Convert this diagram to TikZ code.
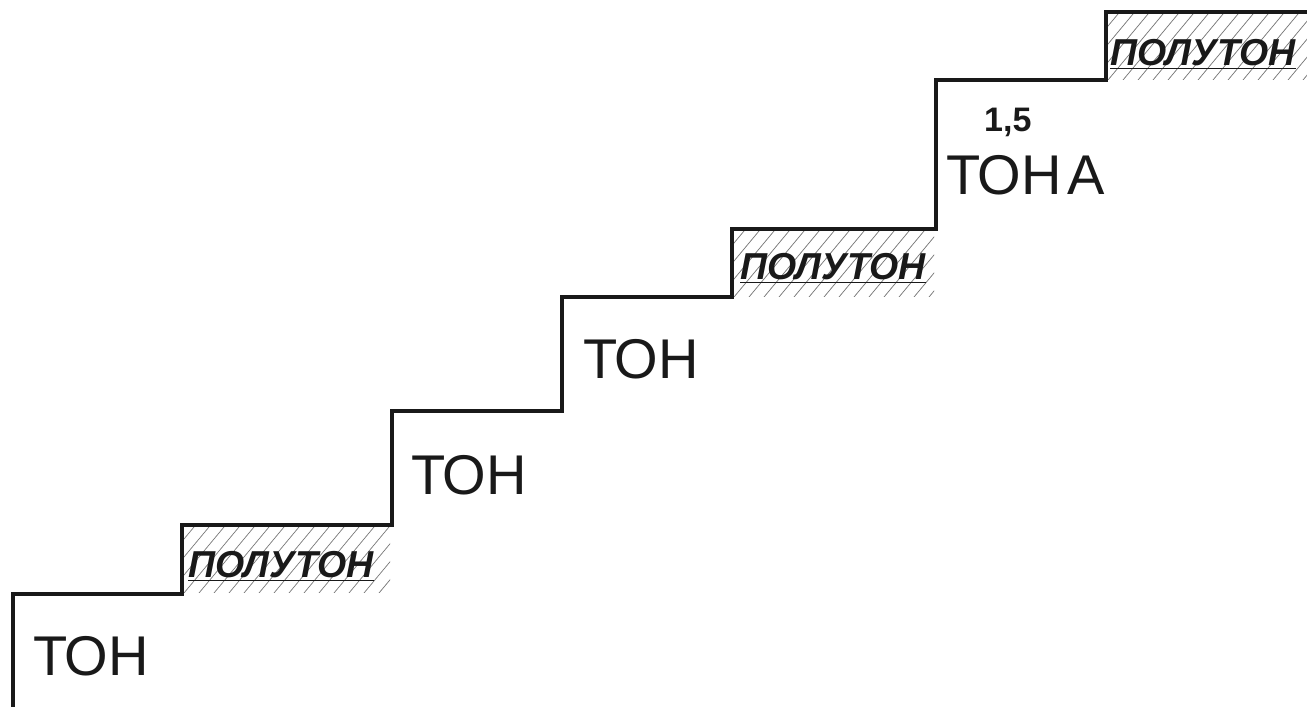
\documentclass[tikz,border=0pt]{standalone}
\usepackage{fontspec}
\setmainfont{Liberation Sans}
\begin{document}
\begin{tikzpicture}[x=1pt,y=1pt,
  stair/.style={line width=4pt,line join=miter,black!90},
  hatchline/.style={line width=0.7pt,black!55},
  tonlbl/.style={inner sep=0pt,anchor=base west,font=\fontsize{56}{60}\selectfont,text=black!90},
  halflbl/.style={inner sep=0pt,anchor=base west,font=\fontsize{37.5}{40}\selectfont\bfseries\itshape,text=black!90},
  numlbl/.style={inner sep=0pt,anchor=base west,font=\fontsize{34}{38}\selectfont\bfseries,text=black!90}]
\useasboundingbox (0,0) rectangle (1307,707);
% hatched regions (x1, x2, ytop, ybottom in image px)
\foreach \xa/\xb/\yt/\yb in {184/390/525/593, 734/934/229/297, 1108/1307/12/80}{
  \begin{scope}
    \clip (\xa,707-\yt) rectangle (\xb,707-\yb);
    \foreach \k in {-105,-90,...,300}{
      \draw[hatchline] (\xa+\k,707-\yb) -- ++(100,120);
    }
  \end{scope}
}
% staircase
\coordinate (p0) at (13,0);
\coordinate (p1) at (13,707-594);
\coordinate (p2) at (182,707-594);
\coordinate (p3) at (182,707-525);
\coordinate (p4) at (392,707-525);
\coordinate (p5) at (392,707-411);
\coordinate (p6) at (562,707-411);
\coordinate (p7) at (562,707-297);
\coordinate (p8) at (732,707-297);
\coordinate (p9) at (732,707-229);
\coordinate (p10) at (936,707-229);
\coordinate (p11) at (936,707-80);
\coordinate (p12) at (1106,707-80);
\coordinate (p13) at (1106,707-12);
\coordinate (p14) at (1309,707-12);
\draw[stair] (p0) -- (p1) -- (p2) -- (p3) -- (p4) -- (p5) -- (p6) -- (p7) -- (p8) -- (p9) -- (p10) -- (p11) -- (p12) -- (p13) -- (p14);
% labels
\node[tonlbl] (t1) at (33,707-676) {ТОН};
\node[tonlbl] (t2) at (411,707-495) {ТОН};
\node[tonlbl] (t3) at (583,707-379) {ТОН};
\node[tonlbl] (t4) at (946,707-195) {ТОН\kern6pt А};
\node[numlbl] (n15) at (984,707-132) {1,5};
\node[halflbl] (h1) at (188,707-578) {\underline{ПОЛУТОН}};
\node[halflbl] (h2) at (740,707-280) {\underline{ПОЛУТОН}};
\node[halflbl] (h3) at (1110,707-66) {\underline{ПОЛУТОН}};
\end{tikzpicture}
\end{document}
